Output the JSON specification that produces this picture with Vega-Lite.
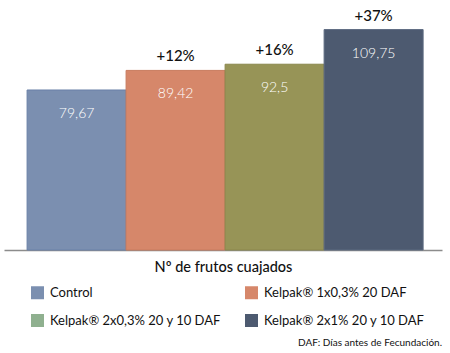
{
  "$schema": "https://vega.github.io/schema/vega-lite/v6.json",
  "autosize": "none",
  "width": 438,
  "height": 241,
  "padding": {"left": 4, "top": 9, "right": 8, "bottom": 103},
  "config": {"font": "Lato", "view": {"stroke": null}},
  "title": {
    "text": "DAF: Días antes de Fecundación.",
    "orient": "bottom",
    "anchor": "end",
    "fontSize": 10,
    "fontWeight": "normal",
    "color": "#111111",
    "offset": 10
  },
  "data": {
    "values": [
      {"cat": "Control", "value": 79.67, "label": "79,67", "pct": ""},
      {"cat": "Kelpak® 1x0,3% 20 DAF", "value": 89.42, "label": "89,42", "pct": "+12%"},
      {"cat": "Kelpak® 2x0,3% 20 y 10 DAF", "value": 92.5, "label": "92,5", "pct": "+16%"},
      {"cat": "Kelpak® 2x1% 20 y 10 DAF", "value": 109.75, "label": "109,75", "pct": "+37%"}
    ]
  },
  "encoding": {
    "x": {
      "field": "cat",
      "type": "nominal",
      "sort": null,
      "scale": {"paddingInner": 0, "paddingOuter": 0.212, "align": 0.55},
      "axis": {
        "labels": false,
        "ticks": false,
        "domain": true,
        "domainColor": "#8c8c8c",
        "domainWidth": 1.5,
        "title": "Nº de frutos cuajados",
        "titleFontSize": 14.5,
        "titleFontWeight": 500,
        "titleColor": "#111111",
        "titlePadding": 10
      }
    },
    "y": {
      "field": "value",
      "type": "quantitative",
      "scale": {"domain": [0, 120]},
      "axis": null
    }
  },
  "layer": [
    {
      "mark": {"type": "bar", "strokeWidth": 1},
      "encoding": {
        "color": {
          "field": "cat",
          "type": "nominal",
          "sort": null,
          "scale": {"range": ["#7b8fb0", "#d6876a", "#979457", "#4d5a70"]},
          "legend": null
        },
        "stroke": {
          "field": "cat",
          "type": "nominal",
          "sort": null,
          "scale": {"range": ["#6a80a8", "#c97a5e", "#8a874c", "#5d6a80"]},
          "legend": null
        }
      }
    },
    {
      "mark": {"type": "text", "color": "white", "baseline": "middle", "dy": 24, "fontSize": 14, "fontWeight": 300},
      "encoding": {"text": {"field": "label"}}
    },
    {
      "mark": {"type": "text", "color": "#111111", "baseline": "bottom", "dy": -6, "fontSize": 15, "fontWeight": 500},
      "encoding": {"text": {"field": "pct"}}
    },
    {
      "mark": {"type": "square", "opacity": 0},
      "encoding": {
        "fill": {
          "field": "cat",
          "type": "nominal",
          "sort": null,
          "scale": {"range": ["#7b8fb0", "#d6876a", "#8fb08f", "#4d5a70"]},
          "legend": {
            "orient": "none",
            "direction": "horizontal",
            "legendX": 27,
            "legendY": 277,
            "columns": 2,
            "columnPadding": 24,
            "rowPadding": 14,
            "symbolType": "square",
            "symbolSize": 169,
            "symbolOpacity": 1,
            "symbolStrokeWidth": 0,
            "labelFontSize": 13,
            "labelColor": "#111111",
            "labelOffset": 6,
            "labelLimit": 300,
            "title": null
          }
        }
      }
    }
  ]
}
